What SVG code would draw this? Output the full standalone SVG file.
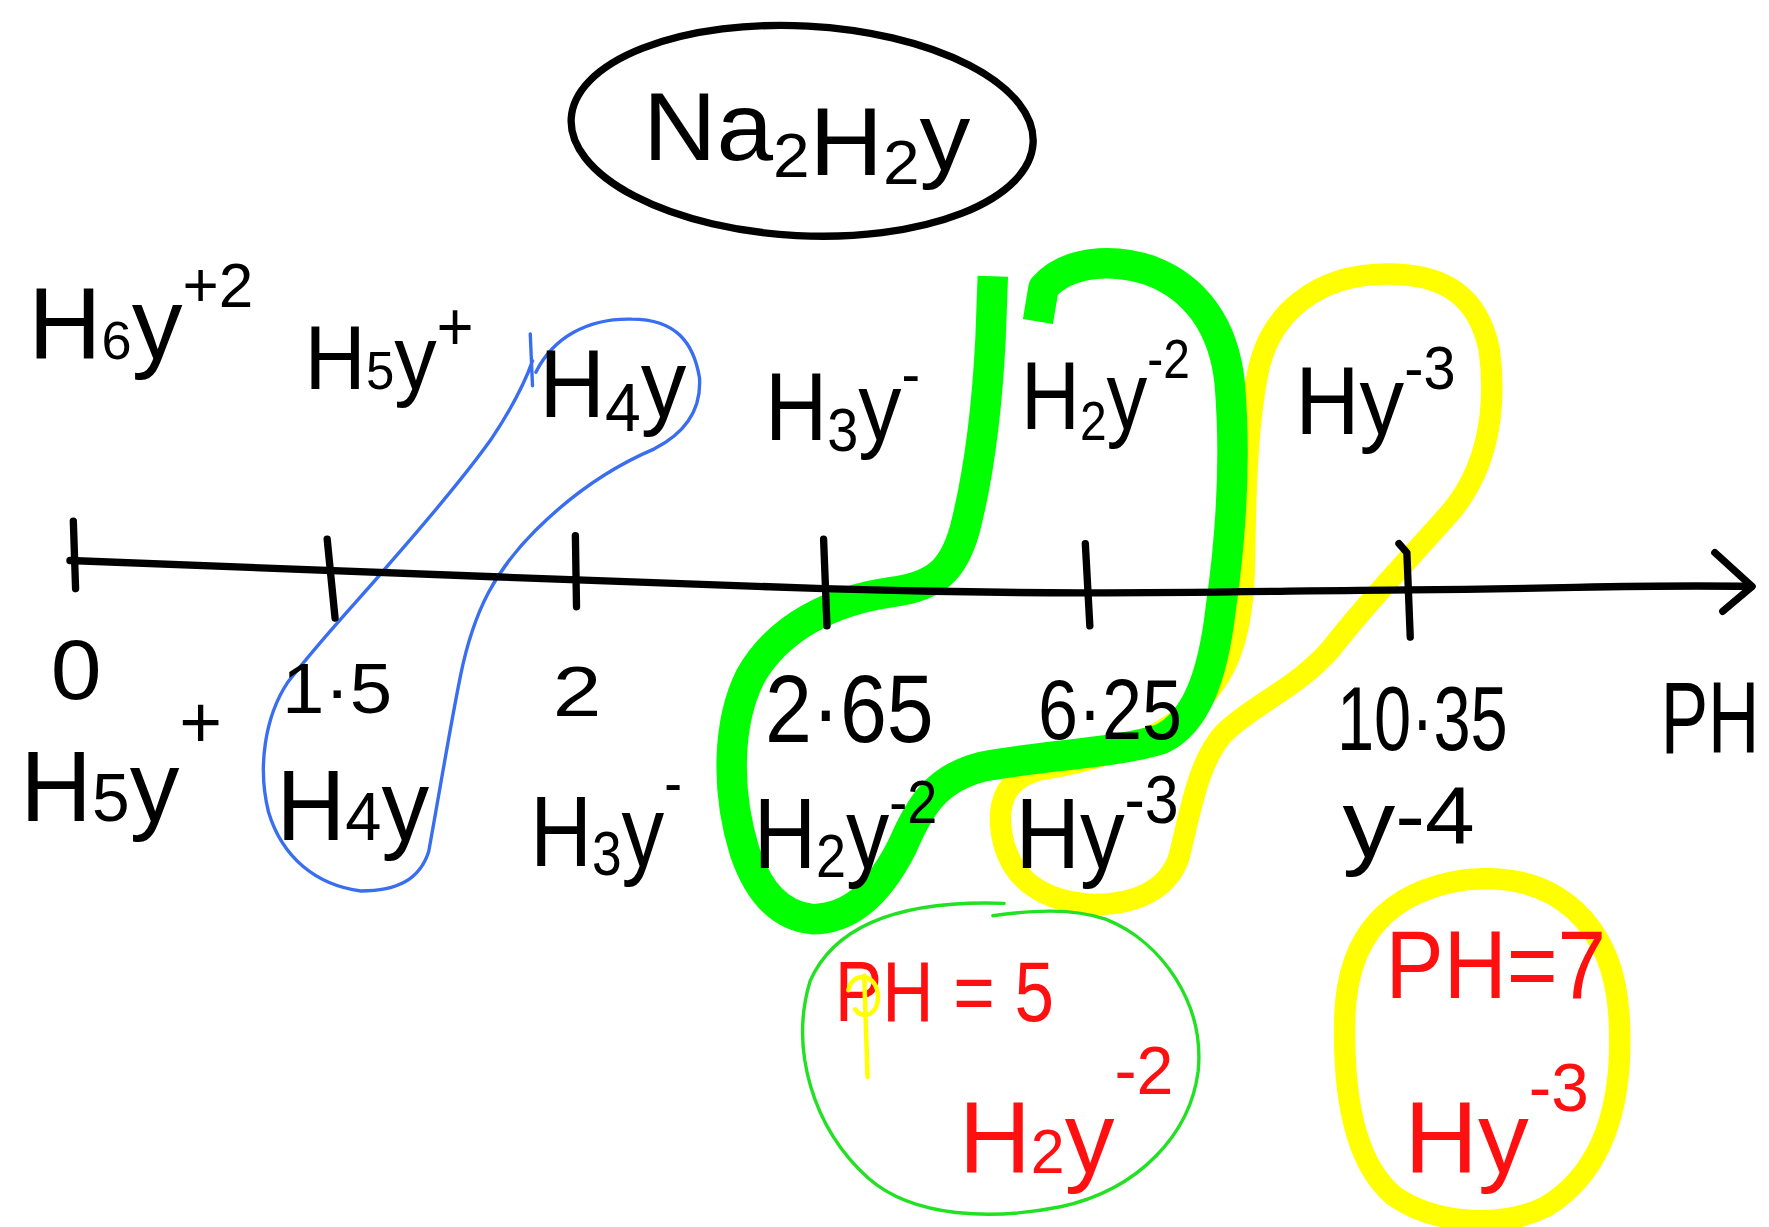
<svg xmlns="http://www.w3.org/2000/svg" width="1769" height="1227" viewBox="0 0 1769 1227">
<style>
.k{fill:none;stroke:#000;stroke-width:6.5;stroke-linecap:round;stroke-linejoin:round}
.t{font-family:"Liberation Sans",Arial,sans-serif;fill:#000}
.r{font-family:"Liberation Sans",Arial,sans-serif;fill:#ff1010}
.gt{fill:none;stroke:#00ff00;stroke-width:27;stroke-linejoin:round}
.yt{fill:none;stroke:#ffff00;stroke-width:19;stroke-linejoin:round}
</style>
<rect width="1769" height="1227" fill="#fff"/>
<g transform="scale(1.1282,1.1278)">
<g id="highlights">
<path class="yt" d="M1230,243 C1280,243 1310,262 1320,310 C1328,370 1315,420 1285,455 C1250,495 1215,530 1180,575 C1150,610 1110,625 1085,650 C1062,675 1055,720 1045,760 C1035,790 1005,802 970,802 C925,800 895,780 888,740 C883,710 893,690 920,683 C970,675 1020,660 1055,630 C1090,600 1102,560 1103,500 C1104,440 1105,380 1115,330 C1125,280 1165,243 1230,243 Z"/>
<path class="gt" stroke-linecap="butt" d="M880,245 L878,300 C875,360 868,420 855,470 C845,505 830,520 790,525 C740,532 690,555 665,600 C645,640 643,700 660,755 C672,790 690,812 720,815 C755,815 780,790 800,750 C815,715 830,690 870,680 C920,670 990,668 1030,655 C1060,640 1075,600 1082,540 C1092,470 1095,400 1090,340 C1085,290 1060,255 1020,240 C985,228 945,232 925,255 L920,285"/>
<path fill="none" stroke="#3a6ef0" stroke-width="3" stroke-linecap="round" stroke-linejoin="round" d="M470,296 L472,342 M475,330 C490,300 520,282 560,283 C600,283 615,305 620,335 C622,365 605,385 580,398 C540,415 505,440 475,470 C440,505 420,540 408,600 C398,650 390,700 380,755 C372,780 352,790 320,790 C280,785 250,760 238,720 C228,680 235,635 255,605 C290,560 320,530 345,500 C380,460 410,425 435,390 C455,360 465,340 472,320"/>
<path fill="none" stroke="#22e022" stroke-width="3" stroke-linecap="round" d="M890,801 C800,798 740,820 718,870 C700,930 720,1000 770,1045 C810,1080 880,1082 940,1070 C1010,1055 1055,1005 1062,950 C1068,890 1030,835 980,815 C950,805 915,807 880,812"/>
<path class="yt" stroke-width="20" d="M1300,780 C1380,772 1430,820 1435,900 C1440,980 1420,1040 1370,1070 C1330,1090 1270,1085 1235,1060 C1200,1030 1190,970 1192,900 C1195,830 1230,790 1300,780 Z"/>
</g>
<g id="title">
<ellipse class="k" cx="711" cy="116" rx="205" ry="93" transform="rotate(3 711 116)"/>
<text class="t" transform="translate(570 142) scale(1.06 1)" font-size="85">Na<tspan font-size="55" dy="15">2</tspan><tspan dy="-2">H</tspan><tspan font-size="55" dy="8">2</tspan><tspan dy="-12">y</tspan></text>
</g>
<g id="axis">
<path class="k" d="M62,497 C300,505 500,515 730,522 S1100,524 1250,523 S1450,518 1552,520"/>
<path class="k" d="M1520,490 L1553,520 L1527,542"/>
<path class="k" d="M65,462 L67,522 M290,478 L297,548 M510,475 L511,538 M730,478 L733,555 M962,482 L966,555 M1240,482 L1247,490 L1250,565"/>
</g>
<g id="top-species">
<text class="t" transform="translate(25 318)" font-size="90">H<tspan font-size="48">6</tspan>y<tspan font-size="55" dy="-46">+2</tspan></text>
<text class="t" transform="translate(270 345) scale(0.94 1)" font-size="80">H<tspan font-size="48">5</tspan>y<tspan font-size="60" dy="-35">+</tspan></text>
<text class="t" transform="translate(478 370) scale(0.95 1)" font-size="85">H<tspan font-size="60" dy="12">4</tspan><tspan dy="-12">y</tspan></text>
<text class="t" transform="translate(678 390) scale(0.9 1)" font-size="85">H<tspan font-size="55" dy="10">3</tspan><tspan dy="-10">y</tspan><tspan font-size="55" dy="-40">-</tspan></text>
<text class="t" transform="translate(905 380) scale(0.85 1)" font-size="85">H<tspan font-size="50" dy="10">2</tspan><tspan dy="-10">y</tspan><tspan font-size="50" dy="-45">-2</tspan></text>
<text class="t" transform="translate(1148 385) scale(0.93 1)" font-size="85">Hy<tspan font-size="55" dy="-40">-3</tspan></text>
</g>
<g id="values">
<text class="t" transform="translate(45 620) scale(1.08 1)" font-size="75">0</text>
<text class="t" transform="translate(250 632) scale(1.09 1)" font-size="62">1·5</text>
<text class="t" transform="translate(490 635) scale(1.25 1)" font-size="62">2</text>
<text class="t" transform="translate(678 658) scale(0.88 1)" font-size="85">2·65</text>
<text class="t" transform="translate(920 655) scale(0.85 1)" font-size="75">6·25</text>
<text class="t" transform="translate(1185 665) scale(0.74 1)" font-size="80">10·35</text>
<text class="t" transform="translate(1472 668) scale(0.7 1)" font-size="90">PH</text>
</g>
<g id="bottom-species">
<text class="t" transform="translate(18 728)" font-size="88">H<tspan font-size="60">5</tspan>y<tspan font-size="65" dy="-65">+</tspan></text>
<text class="t" transform="translate(245 745) scale(0.96 1)" font-size="88">H<tspan font-size="60">4</tspan>y</text>
<text class="t" transform="translate(470 768) scale(0.86 1)" font-size="88">H<tspan font-size="55" dy="8">3</tspan><tspan dy="-8">y</tspan><tspan font-size="55" dy="-55">-</tspan></text>
<text class="t" transform="translate(668 770) scale(0.87 1)" font-size="88">H<tspan font-size="55" dy="8">2</tspan><tspan dy="-8">y</tspan><tspan font-size="55" dy="-40">-2</tspan></text>
<text class="t" transform="translate(900 770) scale(0.9 1)" font-size="88">Hy<tspan font-size="60" dy="-40">-3</tspan></text>
<text class="t" transform="translate(1190 760) scale(1.1 1)" font-size="85">y<tspan font-size="72" dy="-12">-4</tspan></text>
</g>
<g id="note-ph5">
<text class="r" transform="translate(740 905) scale(0.84 1)" font-size="75">PH = 5</text>
<path fill="none" stroke="#ffff00" stroke-width="4" stroke-linecap="round" d="M752,878 C755,862 775,862 778,880 C780,900 765,905 758,895 M766,865 L769,955"/>
<text class="r" transform="translate(850 1040) scale(0.98 1)" font-size="90">H<tspan font-size="55">2</tspan>y<tspan font-size="60" dy="-70">-2</tspan></text>
</g>
<g id="note-ph7">
<text class="r" transform="translate(1228 885) scale(0.91 1)" font-size="85">PH=7</text>
<text class="r" transform="translate(1245 1040)" font-size="90">Hy<tspan font-size="60" dy="-55">-3</tspan></text>
</g>
</g>
</svg>
